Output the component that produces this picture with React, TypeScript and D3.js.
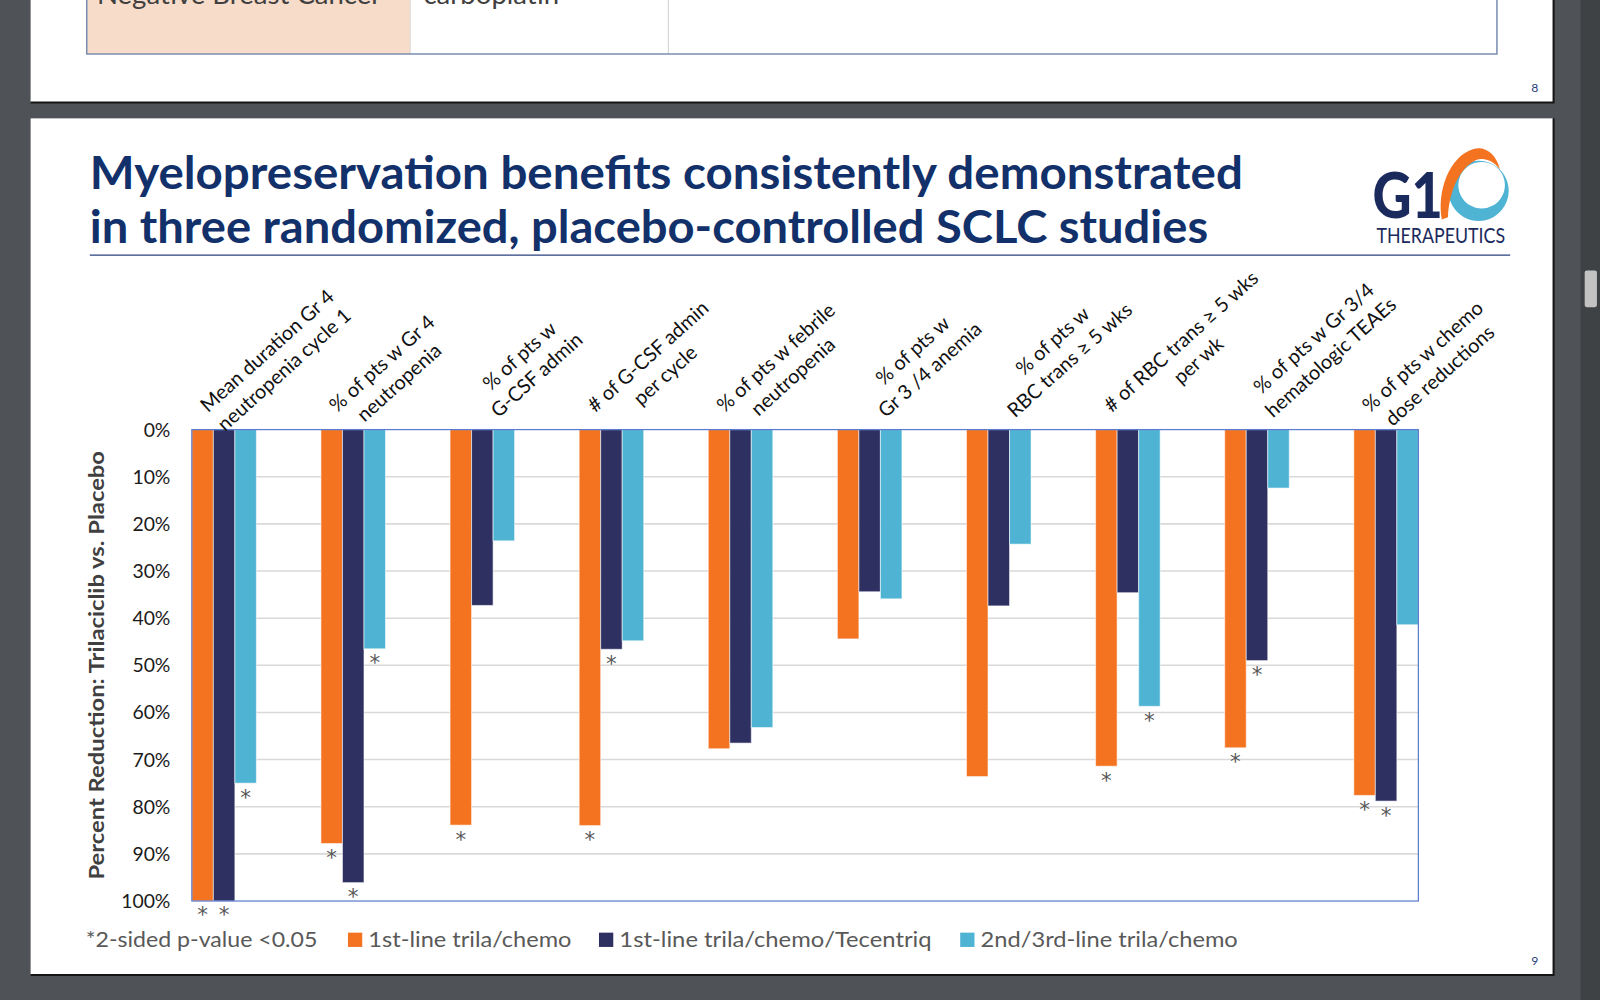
import { useEffect, useRef } from 'react';
import * as d3 from 'd3';

// Category labels (two lines each, as on the slide)
const categories: string[][] = [
  ['Mean duration Gr 4', 'neutropenia cycle 1'],
  ['% of pts w Gr 4', 'neutropenia'],
  ['% of pts w', 'G-CSF admin'],
  ['# of G-CSF admin', 'per cycle'],
  ['% of pts w febrile', 'neutropenia'],
  ['% of pts w', 'Gr 3 /4 anemia'],
  ['% of pts w', 'RBC trans \u2265 5 wks'],
  ['# of RBC trans \u2265 5 wks', 'per wk'],
  ['% of pts w Gr 3/4', 'hematologic TEAEs'],
  ['% of pts w chemo', 'dose reductions'],
];

// Percent reduction vs placebo
const firstLineChemo = [100, 87.8, 83.9, 84.0, 67.7, 44.4, 73.6, 71.4, 67.5, 77.6];
const firstLineTecentriq = [100, 96.1, 37.3, 46.6, 66.5, 34.4, 37.4, 34.6, 49.0, 78.8];
const secondThirdLine = [75.0, 46.5, 23.6, 44.8, 63.2, 35.9, 24.3, 58.7, 12.4, 41.4];

// asterisk = 2-sided p-value < 0.05
const sigFirstLineChemo = [1, 1, 1, 1, 0, 0, 0, 1, 1, 1];
const sigFirstLineTecentriq = [1, 1, 0, 1, 0, 0, 0, 0, 1, 1];
const sigSecondThirdLine = [1, 1, 0, 0, 0, 0, 0, 1, 0, 0];

const seriesNames = ['1st-line trila/chemo', '1st-line trila/chemo/Tecentriq', '2nd/3rd-line trila/chemo'];
const seriesColors = ['#f47321', '#2e3062', '#4fb3d4'];
const yTicks = [0, 10, 20, 30, 40, 50, 60, 70, 80, 90, 100];

const FONT = 'Lato, "Open Sans", sans-serif';

export default function App() {
  const svgRef = useRef<SVGSVGElement>(null);

  useEffect(() => {
    if (!svgRef.current) return;
    const svg = d3.select(svgRef.current);
    svg.selectAll('*').remove();

    // viewer background + scrollbar
    svg.append('rect').attr('width', 1568).attr('height', 980).attr('fill', '#4f5256');
    svg.append('rect').attr('x', 1549).attr('width', 19).attr('height', 980).attr('fill', '#3f4245');
    svg.append('rect').attr('x', 1553).attr('y', 265).attr('width', 12).attr('height', 36).attr('rx', 2).attr('fill', '#c2c2c2');

    // ---- previous slide (page 8), only its bottom part visible
    svg.append('rect').attr('x', 30).attr('y', -10).attr('width', 1492).attr('height', 110).attr('fill', '#ffffff');
    svg.append('rect').attr('x', 85).attr('y', -5).attr('width', 317).attr('height', 58).attr('fill', '#f7dcca');
    svg.append('line').attr('x1', 402).attr('x2', 402).attr('y1', 0).attr('y2', 53).attr('stroke', '#d8d8d8');
    svg.append('line').attr('x1', 655).attr('x2', 655).attr('y1', 0).attr('y2', 53).attr('stroke', '#d0d0d0');
    svg.append('path').attr('d', 'M85,0V53H1467V0').attr('fill', 'none').attr('stroke', '#7b8db0').attr('stroke-width', 1.5);
    svg.append('text').attr('x', 95).attr('y', 4).attr('font-family', FONT).attr('font-size', 27).attr('fill', '#404040').text('Negative Breast Cancer');
    svg.append('text').attr('x', 415).attr('y', 4).attr('font-family', FONT).attr('font-size', 27).attr('fill', '#404040').text('carboplatin');
    svg.append('text').attr('x', 1504).attr('y', 90).attr('text-anchor', 'middle').attr('font-family', FONT).attr('font-size', 12).attr('fill', '#1f3d7a').text('8');
    svg.append('path').attr('d', 'M30,100.5H1522.5V-10').attr('fill', 'none').attr('stroke', '#151515').attr('stroke-width', 2);

    // ---- current slide (page 9)
    svg.append('rect').attr('x', 30).attr('y', 116).attr('width', 1492).attr('height', 839).attr('fill', '#ffffff');
    svg.append('path').attr('d', 'M30,955.5H1522.5V116').attr('fill', 'none').attr('stroke', '#151515').attr('stroke-width', 2);
    svg.append('text').attr('x', 1504).attr('y', 946).attr('text-anchor', 'middle').attr('font-family', FONT).attr('font-size', 12).attr('fill', '#1f3d7a').text('9');

    // title
    const title = [
      { text: 'Myelopreservation benefits consistently demonstrated', y: 185, len: 1130 },
      { text: 'in three randomized, placebo-controlled SCLC studies', y: 238, len: 1096 },
    ];
    title.forEach(t => {
      svg.append('text')
        .attr('x', 88).attr('y', t.y)
        .attr('font-family', FONT).attr('font-weight', 700).attr('font-size', 44)
        .attr('fill', '#12306a')
        .attr('textLength', t.len).attr('lengthAdjust', 'spacingAndGlyphs')
        .text(t.text);
    });
    svg.append('line').attr('x1', 88).attr('x2', 1480).attr('y1', 250).attr('y2', 250).attr('stroke', '#2a3f7e').attr('stroke-width', 1.2);

    // logo
    const logo = svg.append('g');
    logo.append('path')
      .attr('d', 'M1449,157.5a29.5,29.5 0 1,0 0.01,0Z M1452,158.7a22.8,22.8 0 1,1 -0.01,0Z')
      .attr('fill', '#4fb3d4').attr('fill-rule', 'evenodd');
    logo.append('path')
      .attr('d', 'M1413,215 C1408,188 1420,153 1444,146 C1456,143 1466,151 1470,166 C1463,157 1454,154 1446,157 C1430,165 1420,188 1419,213 Z')
      .attr('fill', '#f47321');
    logo.append('text').attr('x', 1345).attr('y', 214).attr('font-family', FONT).attr('font-weight', 900).attr('font-size', 62)
      .attr('fill', '#1b2a5c').attr('textLength', 69).attr('lengthAdjust', 'spacingAndGlyphs').text('G1');
    logo.append('text').attr('x', 1349).attr('y', 238).attr('font-family', FONT).attr('font-size', 21)
      .attr('fill', '#1b2a5c').attr('textLength', 126).attr('lengthAdjust', 'spacingAndGlyphs').text('THERAPEUTICS');

    // ---- chart
    const plotLeft = 188, plotRight = 1390, plotTop = 421, plotBottom = 883;
    const x0 = d3.scaleBand<number>().domain(d3.range(categories.length)).range([plotLeft, plotRight]).paddingInner(0.5).paddingOuter(0);
    const x1 = d3.scaleBand<number>().domain([0, 1, 2]).range([0, x0.bandwidth()]);
    const y = d3.scaleLinear().domain([0, 100]).range([plotTop, plotBottom]);

    const chart = svg.append('g');

    chart.selectAll('line.grid')
      .data(yTicks.filter(t => t > 0 && t < 100))
      .enter().append('line')
      .attr('x1', plotLeft).attr('x2', plotRight)
      .attr('y1', d => y(d)).attr('y2', d => y(d))
      .attr('stroke', '#d9d9d9').attr('stroke-width', 1.5);

    chart.selectAll('text.ytick')
      .data(yTicks)
      .enter().append('text')
      .attr('x', 167).attr('y', d => y(d)).attr('dy', '0.36em')
      .attr('text-anchor', 'end')
      .attr('font-family', FONT).attr('font-size', 19).attr('fill', '#1a1a1a')
      .text(d => `${d}%`);

    chart.append('text')
      .attr('transform', `translate(102,${(plotTop + plotBottom) / 2}) rotate(-90)`)
      .attr('text-anchor', 'middle')
      .attr('font-family', FONT).attr('font-weight', 700).attr('font-size', 21).attr('fill', '#404040')
      .attr('textLength', 420).attr('lengthAdjust', 'spacingAndGlyphs')
      .text('Percent Reduction: Trilaciclib vs. Placebo');

    const series = [firstLineChemo, firstLineTecentriq, secondThirdLine];
    const sig = [sigFirstLineChemo, sigFirstLineTecentriq, sigSecondThirdLine];

    const groups = chart.selectAll('g.cat')
      .data(categories.map((_, i) => i))
      .enter().append('g')
      .attr('transform', i => `translate(${x0(i)},0)`);

    groups.selectAll('rect')
      .data(i => series.map((s, k) => ({ k, v: s[i], sig: sig[k][i] })))
      .enter().append('rect')
      .attr('x', d => x1(d.k)!)
      .attr('y', y(0))
      .attr('width', x1.bandwidth())
      .attr('height', d => y(d.v) - y(0))
      .attr('fill', d => seriesColors[d.k])
      .attr('stroke', '#ffffff').attr('stroke-opacity', 0.55).attr('stroke-width', 1);

    groups.selectAll('text.star')
      .data(i => series.map((s, k) => ({ k, v: s[i], sig: sig[k][i] })).filter(d => d.sig))
      .enter().append('text')
      .attr('x', d => x1(d.k)! + x1.bandwidth() / 2)
      .attr('y', d => y(d.v) + 21)
      .attr('text-anchor', 'middle')
      .attr('font-family', '"DejaVu Sans", sans-serif').attr('font-size', 21).attr('fill', '#595959')
      .text('*');

    chart.append('rect')
      .attr('x', plotLeft).attr('y', plotTop)
      .attr('width', plotRight - plotLeft).attr('height', plotBottom - plotTop)
      .attr('fill', 'none').attr('stroke', '#5b7bd0').attr('stroke-width', 1.2);

    // rotated category labels, lines centred on each other
    const lineHeight = 25;
    categories.forEach((lines, i) => {
      const cx = x0(i)! + x0.bandwidth() / 2;
      const g = chart.append('g').attr('transform', `translate(${cx},${plotTop}) rotate(-42)`);
      const texts = lines.map((line, j) =>
        g.append('text')
          .attr('y', -(lines.length - 1 - j) * lineHeight + 2.5)
          .attr('text-anchor', 'middle')
          .attr('font-family', FONT).attr('font-size', 19.5).attr('fill', '#111111')
          .text(line)
      );
      const widths = texts.map(t => (t.node() as SVGTextElement).getComputedTextLength());
      const w = d3.max(widths) || 0;
      const lastLongest = widths[widths.length - 1] > widths[0] + 8;
      const shift = lastLongest ? 19 : -1;
      texts.forEach(t => t.attr('x', shift + w / 2));
    });

    // legend
    const legendY = 928;
    svg.append('text').attr('x', 84).attr('y', legendY).attr('font-family', FONT).attr('font-size', 21).attr('fill', '#595959')
      .attr('textLength', 227).attr('lengthAdjust', 'spacingAndGlyphs').text('*2-sided p-value <0.05');
    const legendItems = [
      { sx: 341, tx: 361, len: 199 },
      { sx: 587, tx: 607, len: 306 },
      { sx: 941, tx: 961, len: 252 },
    ];
    legendItems.forEach((it, k) => {
      svg.append('rect').attr('x', it.sx).attr('y', 914).attr('width', 14).attr('height', 14).attr('fill', seriesColors[k]);
      svg.append('text').attr('x', it.tx).attr('y', legendY).attr('font-family', FONT).attr('font-size', 21).attr('fill', '#595959')
        .attr('textLength', it.len).attr('lengthAdjust', 'spacingAndGlyphs').text(seriesNames[k]);
    });
  }, []);

  return (
    <svg
      ref={svgRef}
      width={1600}
      height={1000}
      viewBox="0 0 1568 980"
      style={{ position: 'absolute', left: 0, top: 0, display: 'block' }}
    />
  );
}
